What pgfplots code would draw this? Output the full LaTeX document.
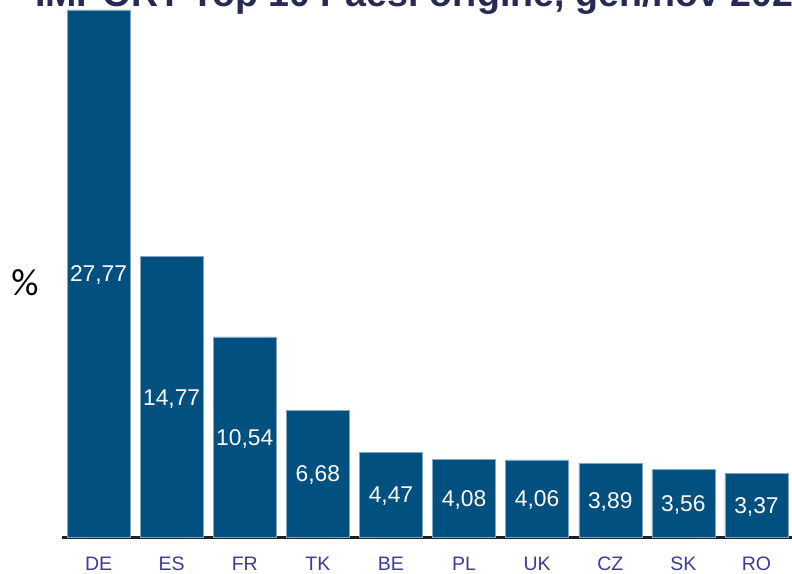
\documentclass[border=0pt]{standalone}
\usepackage{pgfplots}
\pgfplotsset{compat=1.18}
\usepackage{fontspec}
\setmainfont{Liberation Sans}
\newfontfamily\calib{Carlito}
\definecolor{barblue}{HTML}{02507F}
\definecolor{baredge}{HTML}{7FA8C6}
\definecolor{ticklab}{HTML}{3A3AA0}
\definecolor{titlecol}{HTML}{262A55}
\begin{document}
\begin{tikzpicture}
\begin{axis}[
  scale only axis,
  width=731pt, height=537pt,
  xmin=-0.5, xmax=9.5,
  ymin=0, ymax=28.29,
  clip=false,
  axis x line*=bottom,
  axis y line=none,
  x axis line style={line width=3pt, color=black!88},
  xtick={0,...,9},
  xticklabels={DE,ES,FR,TK,BE,PL,UK,CZ,SK,RO},
  xtick style={draw=none},
  ytick=\empty,
  xticklabel style={anchor=base, yshift=-33pt, text=ticklab, font=\fontsize{19.5}{22}\selectfont},
]
\addplot[ybar, bar width=63pt, bar shift=0pt, fill=barblue, draw=baredge, line width=0.4pt]
  coordinates {(0,27.77) (1,14.77) (2,10.54) (3,6.68) (4,4.47) (5,4.08) (6,4.06) (7,3.89) (8,3.56) (9,3.37)};
\addplot[draw=none, mark=none, nodes near coords, point meta=explicit symbolic,
  every node near coord/.append style={anchor=base, yshift=-8.2pt, text=white, inner sep=0pt, font=\fontsize{22.8}{24}\selectfont}]
  coordinates {(0,13.885)[27,77] (1,7.385)[14,77] (2,5.27)[10,54] (3,3.34)[6,68] (4,2.235)[4,47] (5,2.04)[4,08] (6,2.03)[4,06] (7,1.945)[3,89] (8,1.78)[3,56] (9,1.685)[3,37]};
\end{axis}
\node[anchor=center, font=\fontsize{38}{40}\calib] at (-37pt,254pt) {\%};
\node[anchor=base west, inner sep=0pt, text=titlecol, font=\fontsize{37.6}{40}\selectfont\bfseries] at (-27pt,530.5pt) {IMPORT Top 10 Paesi origine, gen/nov 2023};
\pgfresetboundingbox
\useasboundingbox (-62pt,-36pt) rectangle (730pt,537pt);
\end{tikzpicture}
\end{document}
